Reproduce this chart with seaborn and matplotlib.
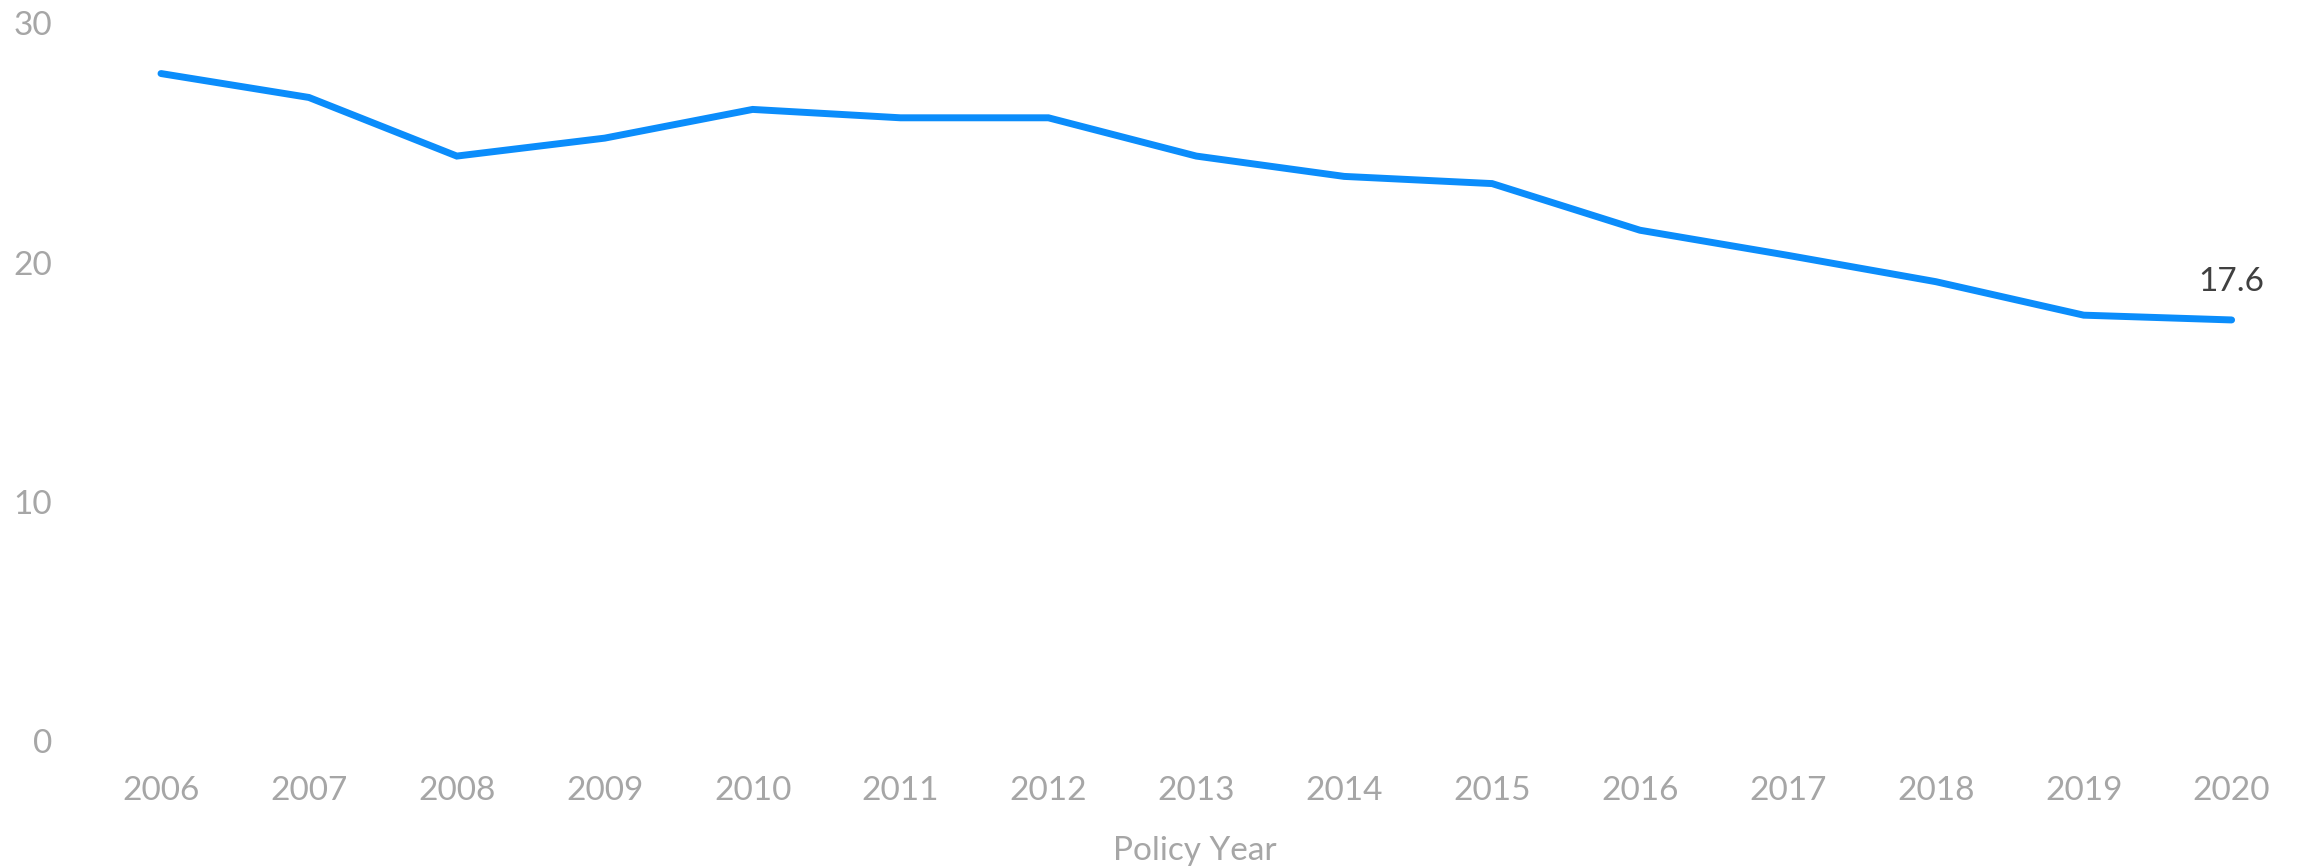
import matplotlib
matplotlib.use("Agg")
import matplotlib.pyplot as plt
import seaborn as sns
import pandas as pd

years = [2006, 2007, 2008, 2009, 2010, 2011, 2012, 2013, 2014, 2015, 2016, 2017, 2018, 2019, 2020]
values = [27.9, 26.9, 24.45, 25.2, 26.4, 26.05, 26.05, 24.45, 23.6, 23.3, 21.35, 20.3, 19.2, 17.8, 17.6]
y_ticks = [0, 10, 20, 30]
x_title = "Policy Year"
last_label = "17.6"

sns.set_theme(style="white")
plt.rcParams["font.family"] = ["Lato", "DejaVu Sans"]

W, H = 2300, 868
fig = plt.figure(figsize=(W / 100, H / 100), dpi=100)
left_px, right_px = 100, 2290
bottom_px, top_px = 127, 844.7
ax = fig.add_axes([left_px / W, bottom_px / H, (right_px - left_px) / W, (top_px - bottom_px) / H])

df = pd.DataFrame({"year": years, "value": values})
sns.lineplot(data=df, x="year", y="value", ax=ax, color="#0B8DFB", linewidth=5,
             solid_capstyle="round", solid_joinstyle="miter")
for l in ax.lines:
    l.set_clip_on(False)

step = 147.9
ax.set_xlim(2006 - (161 - left_px) / step, 2006 + (right_px - 161) / step)
ax.set_ylim(0, 30)
ax.set_xticks(years)
ax.set_xticklabels([str(y) for y in years])
ax.set_yticks(y_ticks)
ax.set_yticklabels([str(t) for t in y_ticks])
for s in ax.spines.values():
    s.set_visible(False)
ax.grid(False)
ax.tick_params(axis="x", length=0, pad=25, labelsize=24, labelcolor="#A6A6A6")
ax.tick_params(axis="y", length=0, pad=34.5, labelsize=24, labelcolor="#A6A6A6")

ax.set_ylabel("")
ax.set_xlabel(x_title, fontsize=24, color="#A6A6A6")
ax.xaxis.label.set_va("center")
ax.xaxis.set_label_coords(0.5, (17 - bottom_px) / (top_px - bottom_px))

ax.annotate(last_label, xy=(years[-1], values[-1]), xytext=(0, 27), textcoords="offset points",
            ha="center", va="center", fontsize=24, color="#404040")

fig.savefig("out.png", dpi=100, facecolor="white")
